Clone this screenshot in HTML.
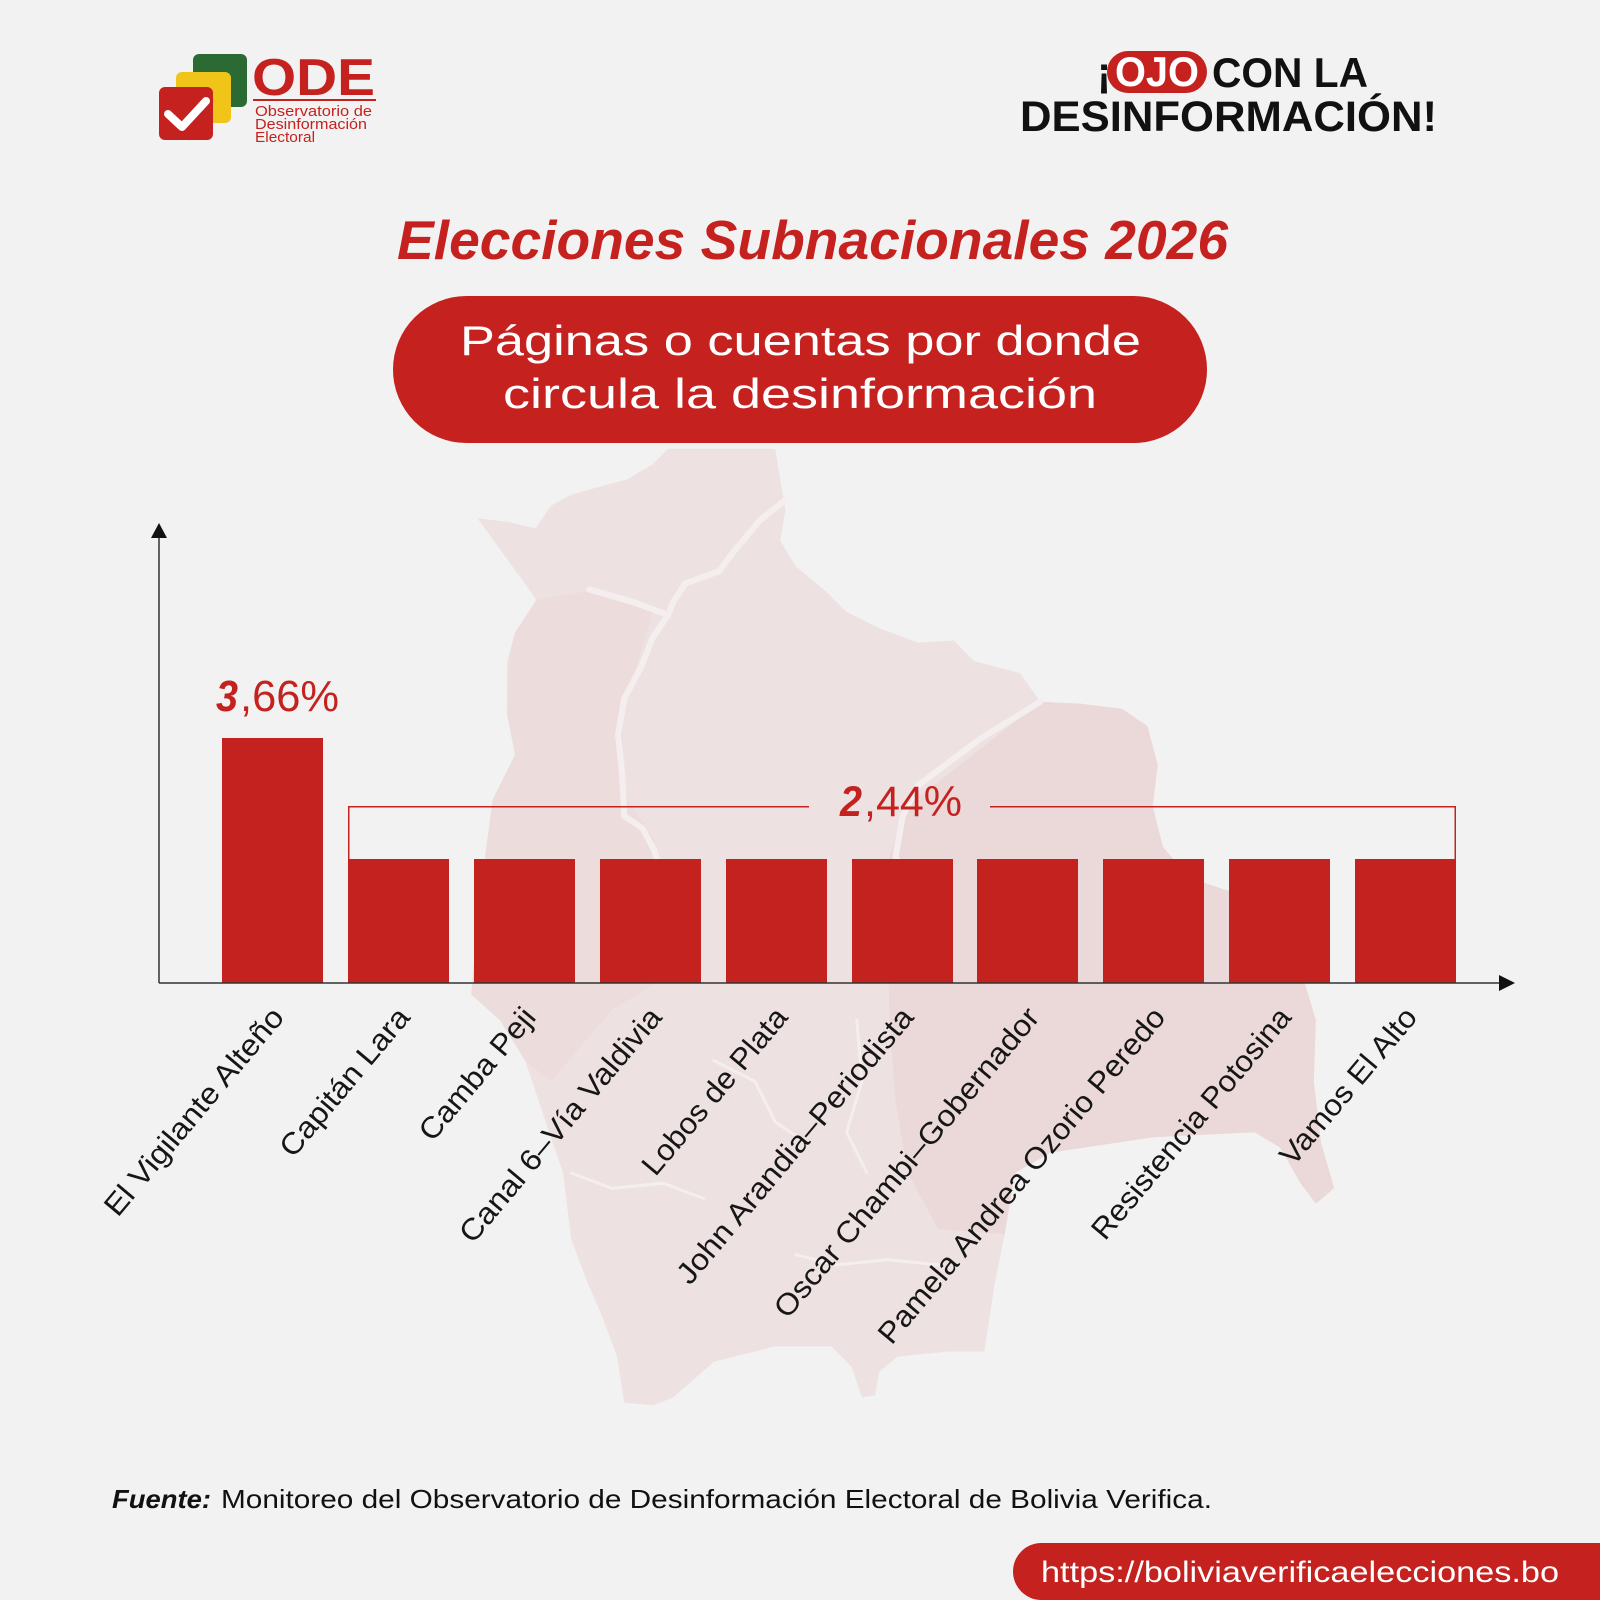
<!DOCTYPE html>
<html>
<head>
<meta charset="utf-8">
<style>
  html,body{margin:0;padding:0;background:#f2f2f2;}
  svg{display:block;}
  text{font-family:"Liberation Sans",Arial,sans-serif;}
</style>
</head>
<body>
<svg width="1600" height="1600" viewBox="0 0 1600 1600" xmlns="http://www.w3.org/2000/svg">
  <rect width="1600" height="1600" fill="#f2f2f2"/>

  <!-- Background map (approximate Bolivia silhouette) -->
  <g transform="scale(1.02)">
    <path fill="#eee1e1" d="M 468 508 L 500 512 L 525 518 L 540 496 L 560 485 L 585 478 L 615 470 L 640 455 L 655 440 L 760 440 L 765 470 L 770 500 L 765 530 L 780 555 L 810 580 L 830 600 L 860 615 L 900 630 L 935 628 L 955 648 L 1000 660 L 1020 688 L 1060 690 L 1100 695 L 1125 712 L 1135 750 L 1130 790 L 1140 830 L 1165 860 L 1200 872 L 1235 880 L 1250 910 L 1275 950 L 1290 1000 L 1288 1060 L 1295 1120 L 1308 1165 L 1290 1180 L 1275 1160 L 1255 1125 L 1230 1110 L 1130 1115 L 1030 1130 L 995 1150 L 985 1210 L 975 1260 L 965 1325 L 930 1325 L 880 1330 L 862 1345 L 858 1368 L 845 1370 L 835 1340 L 815 1320 L 760 1320 L 700 1335 L 660 1370 L 640 1378 L 612 1375 L 605 1330 L 590 1290 L 575 1255 L 560 1215 L 552 1150 L 535 1100 L 515 1040 L 490 1000 L 462 975 L 470 882 L 483 784 L 505 740 L 497 700 L 497 650 L 505 620 L 526 588 Z"/>
    <path fill="#ebd9d9" d="M 1020 688 L 1060 690 L 1100 695 L 1125 712 L 1135 750 L 1130 790 L 1140 830 L 1165 860 L 1200 872 L 1235 880 L 1250 910 L 1275 950 L 1290 1000 L 1288 1060 L 1295 1120 L 1308 1165 L 1290 1180 L 1275 1160 L 1255 1125 L 1230 1110 L 1130 1115 L 1030 1130 L 995 1150 L 985 1210 L 920 1205 L 890 1150 L 878 1080 L 872 1000 L 870 900 L 872 840 L 890 790 Z"/>
    <path fill="#ecdcdc" d="M 500 640 L 505 620 L 526 588 L 575 580 L 640 600 L 625 650 L 610 700 L 612 780 L 640 820 L 655 880 L 650 960 L 600 990 L 540 1060 L 515 1040 L 490 1000 L 462 975 L 470 882 L 483 784 L 505 740 L 497 700 Z"/>
    <g fill="none" stroke="#f4eeee" stroke-width="6" stroke-linecap="round" stroke-linejoin="round">
      <path d="M 578 578 L 620 590 L 655 603"/>
      <path d="M 655 603 L 640 625 L 628 655 L 612 685 L 606 720 L 610 760 L 612 800 L 630 812 L 642 835 L 650 865 L 652 900"/>
      <path d="M 770 490 L 745 510 L 720 540 L 705 560 L 672 572 L 660 590 L 655 603"/>
      <path d="M 1020 688 L 960 725 L 900 770 L 885 800 L 878 840 L 895 870"/>
      <path d="M 560 1150 L 600 1165 L 650 1160 L 690 1175" stroke-width="3"/>
      <path d="M 780 1230 L 820 1240 L 870 1235 L 920 1240" stroke-width="3"/>
      <path d="M 840 1000 L 845 1060 L 830 1110 L 850 1150" stroke-width="3"/>
      <path d="M 700 1040 L 740 1060 L 760 1100 L 790 1120" stroke-width="3"/>
    </g>
  </g>

  <!-- Logo -->
  <rect x="193" y="54" width="54" height="53" rx="6" fill="#2b6a33"/>
  <rect x="176" y="72" width="55" height="51" rx="6" fill="#f0c419"/>
  <rect x="159" y="87" width="54" height="53" rx="6" fill="#c4211f"/>
  <polyline points="168,114 182,127 206,101" fill="none" stroke="#ffffff" stroke-width="8" stroke-linecap="round" stroke-linejoin="round"/>
  <text x="252" y="95" font-size="52" font-weight="bold" fill="#c4211f" textLength="123" lengthAdjust="spacingAndGlyphs">ODE</text>
  <rect x="253" y="99" width="123" height="2" fill="#c4211f"/>
  <text x="255" y="116" font-size="15" fill="#c4211f" textLength="117" lengthAdjust="spacingAndGlyphs">Observatorio de</text>
  <text x="255" y="129" font-size="15" fill="#c4211f" textLength="112" lengthAdjust="spacingAndGlyphs">Desinformación</text>
  <text x="255" y="142" font-size="15" fill="#c4211f" textLength="60" lengthAdjust="spacingAndGlyphs">Electoral</text>

  <!-- Right header -->
  <text x="1097" y="87" font-size="42" font-weight="bold" fill="#111">¡</text>
  <rect x="1107" y="51" width="100" height="42" rx="21" fill="#c4211f"/>
  <text x="1115" y="86" font-size="42" font-weight="bold" fill="#ffffff" textLength="84" lengthAdjust="spacingAndGlyphs">OJO</text>
  <text x="1212" y="87" font-size="42" font-weight="bold" fill="#111" textLength="156" lengthAdjust="spacingAndGlyphs">CON LA</text>
  <text x="1020" y="131" font-size="43" font-weight="bold" fill="#111" textLength="417" lengthAdjust="spacingAndGlyphs">DESINFORMACIÓN!</text>

  <!-- Title -->
  <text x="397" y="259" font-size="55" font-weight="bold" font-style="italic" fill="#c4211f" textLength="831" lengthAdjust="spacingAndGlyphs">Elecciones Subnacionales 2026</text>

  <!-- Pill -->
  <rect x="393" y="296" width="814" height="147" rx="73.5" fill="#c4211f"/>
  <text x="460" y="355" font-size="42" fill="#ffffff" textLength="681" lengthAdjust="spacingAndGlyphs">Páginas o cuentas por donde</text>
  <text x="503" y="408" font-size="42" fill="#ffffff" textLength="594" lengthAdjust="spacingAndGlyphs">circula la desinformación</text>

  <!-- Bars -->
  <g fill="#c4221f">
    <rect x="222" y="738" width="101" height="245"/>
    <rect x="348" y="859" width="101" height="124"/>
    <rect x="474" y="859" width="101" height="124"/>
    <rect x="600" y="859" width="101" height="124"/>
    <rect x="726" y="859" width="101" height="124"/>
    <rect x="852" y="859" width="101" height="124"/>
    <rect x="977" y="859" width="101" height="124"/>
    <rect x="1103" y="859" width="101" height="124"/>
    <rect x="1229" y="859" width="101" height="124"/>
    <rect x="1355" y="859" width="101" height="124"/>
  </g>

  <!-- Bracket -->
  <path d="M 348.75 859 V 806.75 H 809 M 990 806.75 H 1455.25 V 859" fill="none" stroke="#c4221f" stroke-width="1.5"/>

  <!-- Value labels -->
  <text x="216" y="711" font-size="44" font-weight="bold" font-style="italic" fill="#c4221f" textLength="22" lengthAdjust="spacingAndGlyphs">3</text>
  <text x="240" y="711" font-size="44" fill="#c4221f" textLength="99" lengthAdjust="spacingAndGlyphs">,66%</text>
  <text x="840" y="816" font-size="43" font-weight="bold" font-style="italic" fill="#c4221f" textLength="22" lengthAdjust="spacingAndGlyphs">2</text>
  <text x="864" y="816" font-size="43" fill="#c4221f" textLength="98" lengthAdjust="spacingAndGlyphs">,44%</text>

  <!-- Axes -->
  <line x1="159" y1="983" x2="159" y2="534" stroke="#333" stroke-width="1.5"/>
  <polygon points="159,523 151,538 167,538" fill="#111"/>
  <line x1="159" y1="983" x2="1502" y2="983" stroke="#333" stroke-width="1.5"/>
  <polygon points="1515,983 1499,975 1499,991" fill="#111"/>

  <!-- Category labels -->
  <g font-size="30" fill="#161616" text-anchor="end">
    <text transform="translate(285.5,1018) rotate(-50)" textLength="261" lengthAdjust="spacingAndGlyphs">El Vigilante Alteño</text>
    <text transform="translate(411.4,1018) rotate(-50)" textLength="184" lengthAdjust="spacingAndGlyphs">Capitán Lara</text>
    <text transform="translate(537.3,1018) rotate(-50)" textLength="163" lengthAdjust="spacingAndGlyphs">Camba Peji</text>
    <text transform="translate(663.2,1018) rotate(-50)" textLength="296" lengthAdjust="spacingAndGlyphs">Canal 6–Vía Valdivia</text>
    <text transform="translate(789.1,1018) rotate(-50)" textLength="208" lengthAdjust="spacingAndGlyphs">Lobos de Plata</text>
    <text transform="translate(915,1018) rotate(-50)" textLength="350" lengthAdjust="spacingAndGlyphs">John Arandia–Periodista</text>
    <text transform="translate(1040.9,1018) rotate(-50)" textLength="394" lengthAdjust="spacingAndGlyphs">Oscar Chambi–Gobernador</text>
    <text transform="translate(1166.8,1018) rotate(-50)" textLength="428" lengthAdjust="spacingAndGlyphs">Pamela Andrea Ozorio Peredo</text>
    <text transform="translate(1292.7,1018) rotate(-50)" textLength="292" lengthAdjust="spacingAndGlyphs">Resistencia Potosina</text>
    <text transform="translate(1418.6,1018) rotate(-50)" textLength="195" lengthAdjust="spacingAndGlyphs">Vamos El Alto</text>
  </g>

  <!-- Source -->
  <text x="112" y="1508" font-size="26" font-weight="bold" font-style="italic" fill="#111" textLength="99" lengthAdjust="spacingAndGlyphs">Fuente:</text>
  <text x="221" y="1508" font-size="26" fill="#111" textLength="991" lengthAdjust="spacingAndGlyphs">Monitoreo del Observatorio de Desinformación Electoral de Bolivia Verifica.</text>

  <!-- URL pill -->
  <rect x="1013" y="1543" width="640" height="57" rx="28.5" fill="#c4211f"/>
  <text x="1041" y="1582" font-size="30" fill="#ffffff" textLength="518" lengthAdjust="spacingAndGlyphs">https://boliviaverificaelecciones.bo</text>
</svg>
</body>
</html>
